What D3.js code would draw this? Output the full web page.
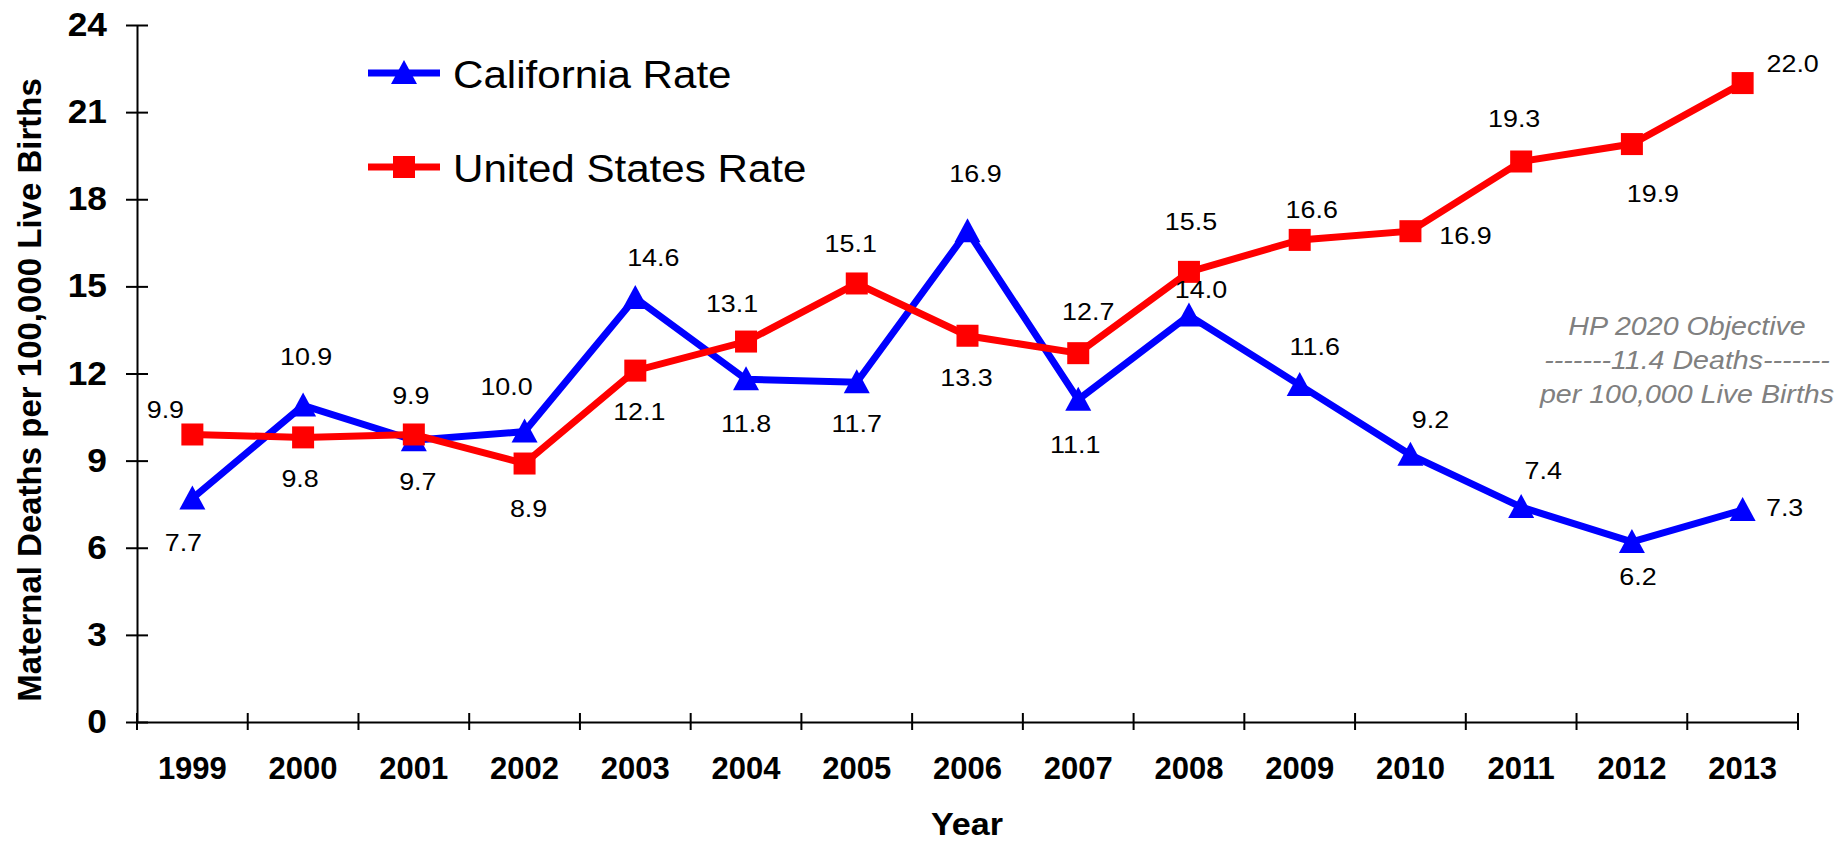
<!DOCTYPE html>
<html>
<head>
<meta charset="utf-8">
<script src="https://cdn.jsdelivr.net/npm/d3@7"></script>
<style>
    html, body { margin: 0; padding: 0; background: #ffffff; }
    svg { display: block; font-family: "Liberation Sans", Arial, sans-serif; }
</style>
</head>
<body>
<div id="chart"></div>
<script>
'use strict';

// data
var years = ['1999', '2000', '2001', '2002', '2003', '2004', '2005', '2006', '2007', '2008', '2009', '2010', '2011', '2012', '2013'];
var californiaRate = [7.7, 10.9, 9.7, 10.0, 14.6, 11.8, 11.7, 16.9, 11.1, 14.0, 11.6, 9.2, 7.4, 6.2, 7.3];
var unitedStatesRate = [9.9, 9.8, 9.9, 8.9, 12.1, 13.1, 15.1, 13.3, 12.7, 15.5, 16.6, 16.9, 19.3, 19.9, 22.0];
var yTicks = [0, 3, 6, 9, 12, 15, 18, 21, 24];
var seriesNames = ['California Rate', 'United States Rate'];
var objectiveLines = ['HP 2020 Objective', '-------11.4 Deaths-------', 'per 100,000 Live Births'];

var Chart = function Chart(el) {

    var width = 1841,
        height = 843;

    var config = {
        left: 137,
        right: 1798,
        top: 25,
        bottom: 722,
        blue: '#0000ff',
        red: '#ff0000',
        lineWidth: 7,
        stretch: 1.12 // the original text is a bit wide
    };

    // where each value label sits relative to its point (dx, dy to baseline)
    var caLabelOffsets = [[-9, 53], [3, -40], [4, 50], [-18, -37], [18, -32], [0, 53], [0, 50], [8, -49], [-3, 53], [12, -17], [15, -30], [20, -27], [22, -28], [6, 43], [42, 6]];
    var usLabelOffsets = [[-27, -16], [-3, 50], [-3, -30], [4, 53], [4, 49], [-14, -30], [-6, -31], [-1, 50], [10, -33], [2, -42], [12, -22], [55, 13], [-7, -34], [21, 58], [50, -11]];

    var svg = d3.select(el).append('svg')
        .attr('width', width)
        .attr('height', height);

    var x = d3.scaleBand().domain(years).range([config.left, config.right]).padding(0);
    var y = d3.scaleLinear().domain([0, 24]).range([config.bottom, config.top]);

    var cx = function (d, i) { return x(years[i]) + x.bandwidth() / 2; };

    var place = function (px, py, sx) {
        return 'translate(' + px + ',' + py + ') scale(' + sx + ',1)';
    };

    // y axis
    var yAxis = svg.append('g')
        .attr('transform', 'translate(' + config.left + ',0)')
        .call(d3.axisLeft(y).tickValues(yTicks).tickSizeInner(11).tickSizeOuter(0).tickPadding(19));

    yAxis.select('.domain').attr('stroke', '#000').attr('stroke-width', 2);
    yAxis.selectAll('.tick line').attr('x1', -11).attr('x2', 11).attr('stroke-width', 2);
    yAxis.selectAll('.tick text')
        .attr('x', 0)
        .attr('transform', place(-30, 0, 1.07))
        .attr('font-size', 33)
        .attr('font-weight', 'bold')
        .attr('fill', '#000')
        .style('font-family', '"Liberation Sans", Arial, sans-serif');

    // x axis, labels in the bands, ticks on the band edges
    var xAxis = svg.append('g')
        .attr('transform', 'translate(0,' + config.bottom + ')')
        .call(d3.axisBottom(x).tickSize(0).tickPadding(35));

    xAxis.select('.domain').attr('stroke', '#000').attr('stroke-width', 2);
    xAxis.selectAll('.tick text')
        .attr('font-size', 31)
        .attr('font-weight', 'bold')
        .attr('fill', '#000')
        .style('font-family', '"Liberation Sans", Arial, sans-serif');

    var edges = years.map(function (d) { return x(d); }).concat([x(years[years.length - 1]) + x.bandwidth()]);

    xAxis.selectAll('.edge')
        .data(edges)
        .enter().append('line')
        .attr('class', 'edge')
        .attr('x1', function (d) { return d; })
        .attr('x2', function (d) { return d; })
        .attr('y1', -9)
        .attr('y2', 8)
        .attr('stroke', '#000')
        .attr('stroke-width', 2);

    // axis titles
    svg.append('text')
        .attr('transform', 'translate(41,390) rotate(-90)')
        .attr('text-anchor', 'middle')
        .attr('font-size', 33)
        .attr('font-weight', 'bold')
        .text('Maternal Deaths per 100,000 Live Births');

    svg.append('text')
        .attr('transform', place(967, 835, 1.1))
        .attr('text-anchor', 'middle')
        .attr('font-size', 31)
        .attr('font-weight', 'bold')
        .text('Year');

    var line = d3.line()
        .x(cx)
        .y(function (d) { return y(d); });

    var drawSeries = function (values, color, marker) {

        var g = svg.append('g');

        g.append('path')
            .datum(values)
            .attr('d', line)
            .attr('fill', 'none')
            .attr('stroke', color)
            .attr('stroke-width', config.lineWidth)
            .attr('stroke-linejoin', 'miter');

        if (marker === 'triangle') {
            g.selectAll('.marker')
                .data(values)
                .enter().append('path')
                .attr('class', 'marker')
                .attr('d', 'M0,-13L13,11L-13,11Z')
                .attr('transform', function (d, i) { return 'translate(' + cx(d, i) + ',' + y(d) + ')'; })
                .attr('fill', color);
        } else {
            g.selectAll('.marker')
                .data(values)
                .enter().append('rect')
                .attr('class', 'marker')
                .attr('x', function (d, i) { return cx(d, i) - 11; })
                .attr('y', function (d) { return y(d) - 11; })
                .attr('width', 22)
                .attr('height', 22)
                .attr('fill', color);
        }

        return g;
    };

    var drawLabels = function (values, offsets) {

        svg.append('g').selectAll('text')
            .data(values)
            .enter().append('text')
            .attr('transform', function (d, i) {
                return place(cx(d, i) + offsets[i][0], y(d) + offsets[i][1], config.stretch);
            })
            .attr('text-anchor', 'middle')
            .attr('font-size', 24)
            .attr('fill', '#000')
            .text(function (d) { return d.toFixed(1); });
    };

    drawSeries(californiaRate, config.blue, 'triangle');
    drawSeries(unitedStatesRate, config.red, 'square');
    drawLabels(californiaRate, caLabelOffsets);
    drawLabels(unitedStatesRate, usLabelOffsets);

    // legend
    var legend = svg.append('g');
    var legendRows = [
        { name: seriesNames[0], color: config.blue, marker: 'triangle', y: 73 },
        { name: seriesNames[1], color: config.red, marker: 'square', y: 167 }
    ];

    legendRows.forEach(function (row) {
        legend.append('line')
            .attr('x1', 368).attr('x2', 440)
            .attr('y1', row.y).attr('y2', row.y)
            .attr('stroke', row.color)
            .attr('stroke-width', config.lineWidth);

        if (row.marker === 'triangle') {
            legend.append('path')
                .attr('d', 'M0,-13L13,11L-13,11Z')
                .attr('transform', 'translate(404,' + row.y + ')')
                .attr('fill', row.color);
        } else {
            legend.append('rect')
                .attr('x', 393).attr('y', row.y - 11)
                .attr('width', 22).attr('height', 22)
                .attr('fill', row.color);
        }

        legend.append('text')
            .attr('transform', place(453, row.y + 15, 1.08))
            .attr('font-size', 39)
            .attr('fill', '#000')
            .text(row.name);
    });

    // HP 2020 objective note
    svg.append('g').selectAll('text')
        .data(objectiveLines)
        .enter().append('text')
        .attr('transform', function (d, i) { return place(1687, 335 + i * 34, 1.1); })
        .attr('text-anchor', 'middle')
        .attr('font-size', 26)
        .attr('font-style', 'italic')
        .attr('fill', '#808080')
        .text(function (d) { return d; });
};

Chart('#chart');
</script>
</body>
</html>
